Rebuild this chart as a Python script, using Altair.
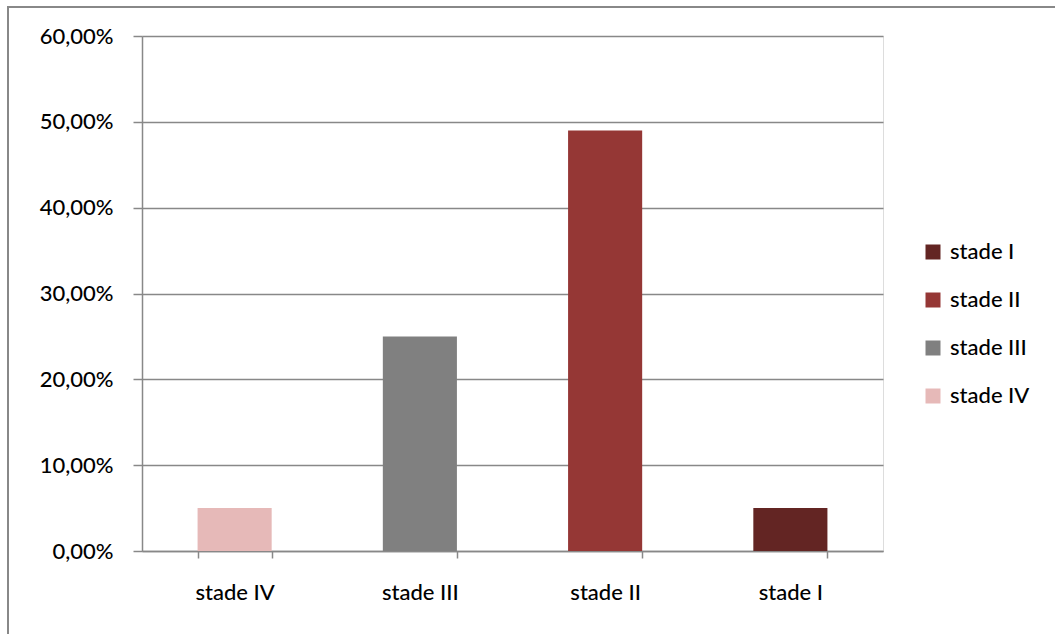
import altair as alt
import pandas as pd

# Share of patients by stage (fraction of total)
stages = ["stade IV", "stade III", "stade II", "stade I"]
shares = [0.05, 0.25, 0.49, 0.05]

legend_order = ["stade I", "stade II", "stade III", "stade IV"]
legend_colors = ["#632523", "#953735", "#808080", "#E6B9B8"]

df = pd.DataFrame({"stage": stages, "share": shares})

FONT = "Lato"
FONT_SIZE = 22
FONT_WEIGHT = 500
AXIS_GRAY = "#888888"

bars = alt.Chart(df).mark_bar().encode(
    x=alt.X(
        "stage:N",
        sort=stages,
        title=None,
        scale=alt.Scale(paddingInner=0.6, paddingOuter=0.3),
        axis=alt.Axis(
            labelAngle=0,
            tickBand="extent",
            tickSize=7,
            tickColor=AXIS_GRAY,
            tickWidth=1.5,
            domainColor=AXIS_GRAY,
            domainWidth=1.5,
            labelPadding=24,
            labelFontSize=FONT_SIZE,
            labelFontWeight=FONT_WEIGHT,
            labelFont=FONT,
            labelColor="#000000",
            grid=False,
        ),
    ),
    y=alt.Y(
        "share:Q",
        title=None,
        scale=alt.Scale(domain=[0, 0.6], nice=False),
        axis=alt.Axis(
            values=[0, 0.1, 0.2, 0.3, 0.4, 0.5, 0.6],
            labelExpr="replace(format(datum.value * 100, '.2f'), '.', ',') + '%'",
            tickSize=9,
            tickColor=AXIS_GRAY,
            tickWidth=1.5,
            domainColor=AXIS_GRAY,
            domainWidth=1.5,
            gridColor=AXIS_GRAY,
            gridWidth=1.5,
            labelPadding=20,
            labelFontSize=FONT_SIZE,
            labelFontWeight=FONT_WEIGHT,
            labelFont=FONT,
            labelColor="#000000",
        ),
    ),
    color=alt.Color(
        "stage:N",
        scale=alt.Scale(domain=legend_order, range=legend_colors),
        legend=alt.Legend(
            title=None,
            orient="none",
            legendX=780,
            legendY=205,
            symbolType="square",
            symbolSize=225,
            symbolStrokeWidth=0,
            rowPadding=26,
            labelFontSize=FONT_SIZE,
            labelFontWeight=FONT_WEIGHT,
            labelFont=FONT,
            labelColor="#000000",
            labelOffset=6,
        ),
    ),
)

# Chart-area frame (top and left edges are visible inside the canvas)
frame = alt.Chart(df).mark_rect(
    fill=None, stroke=AXIS_GRAY, strokeWidth=2
).encode(
    x=alt.value(-134),
    y=alt.value(-29),
    x2=alt.value(1000),
    y2=alt.value(700),
)

chart = (
    alt.layer(frame, bars)
    .properties(
        width=741,
        height=515,
        autosize=alt.AutoSizeParams(type="none"),
        padding={"left": 142, "top": 36, "right": 172, "bottom": 83},
    )
    .configure_view(stroke=None)
    .configure(background="white")
)

chart.save("out.html", embed_options={"renderer": "svg", "actions": False})
